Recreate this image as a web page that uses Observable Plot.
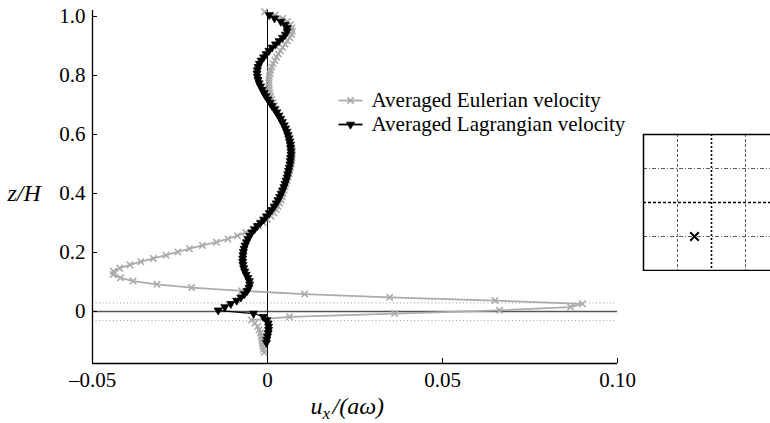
<!DOCTYPE html>
<html><head><meta charset="utf-8">
<script src="https://cdn.jsdelivr.net/npm/d3@7"></script>
<script src="https://cdn.jsdelivr.net/npm/@observablehq/plot@0.6"></script>
<style>
html,body{margin:0;padding:0;background:#fff;overflow:hidden}
#wrap{position:relative;width:770px;height:423px;overflow:hidden;background:#fff}
#wrap svg{display:block;max-width:none !important}
#inset{position:absolute;left:642px;top:133px;width:138px;height:138px}
</style></head><body><div id="wrap"><div id="main"></div><div id="inset"></div></div>
<script>
// ---- data ----
const xTicks = [-0.05, 0, 0.05, 0.10];
const xTickLabels = ["\u20130.05", "0", "0.05", "0.10"];
const yTicks = [0, 0.2, 0.4, 0.6, 0.8, 1.0];
const yTickLabels = ["0", "0.2", "0.4", "0.6", "0.8", "1.0"];
const xDomain = [-0.05, 0.10];
const yDomain = [-0.1763, 1.0203];
const bandLimits = [0.029, -0.031];
const legendLabels = ["Averaged Eulerian velocity", "Averaged Lagrangian velocity"];

// [u_x/(a omega), z/H]
const eulerian = [
  [-0.0010,-0.139],[-0.0012,-0.128],[-0.0014,-0.117],[-0.0015,-0.106],[-0.0016,-0.095],
  [-0.0018,-0.084],[-0.0020,-0.073],[-0.0024,-0.062],[-0.0028,-0.051],[-0.0036,-0.040],
  [-0.0046,-0.029],[0.0063,-0.018],[0.0363,-0.007],[0.0663,0.004],[0.0866,0.015],
  [0.0900,0.026],[0.0650,0.037],[0.0349,0.048],[0.0106,0.059],[-0.0074,0.070],
  [-0.0217,0.081],[-0.0316,0.092],[-0.0384,0.103],[-0.0420,0.114],[-0.0441,0.125],
  [-0.0440,0.136],[-0.0422,0.147],[-0.0393,0.158],[-0.0362,0.169],[-0.0326,0.180],
  [-0.0290,0.191],[-0.0256,0.202],[-0.0223,0.213],[-0.0186,0.224],[-0.0146,0.235],
  [-0.0113,0.246],[-0.0086,0.257],[-0.0062,0.268],[-0.0042,0.279],[-0.0026,0.290],
  [-0.0012,0.301],[0.0000,0.312],[0.0010,0.323],[0.0018,0.334],[0.0025,0.345],
  [0.0030,0.356],[0.0035,0.367],[0.0039,0.378],[0.0042,0.389],[0.0044,0.400],
  [0.0047,0.411],[0.0050,0.422],[0.0053,0.433],[0.0056,0.444],[0.0059,0.455],
  [0.0062,0.466],[0.0064,0.477],[0.0066,0.488],[0.0068,0.499],[0.0069,0.510],
  [0.0070,0.521],[0.0071,0.532],[0.0071,0.543],[0.0070,0.554],[0.0069,0.565],
  [0.0067,0.576],[0.0065,0.587],[0.0062,0.598],[0.0059,0.609],[0.0055,0.620],
  [0.0051,0.631],[0.0046,0.642],[0.0041,0.653],[0.0036,0.664],[0.0030,0.675],
  [0.0025,0.686],[0.0020,0.697],[0.0016,0.708],[0.0012,0.719],[0.0009,0.730],
  [0.0007,0.741],[0.0005,0.752],[0.0004,0.763],[0.0004,0.774],[0.0004,0.785],
  [0.0005,0.796],[0.0007,0.807],[0.0009,0.818],[0.0012,0.829],[0.0016,0.840],
  [0.0021,0.851],[0.0026,0.862],[0.0031,0.873],[0.0037,0.884],[0.0043,0.895],
  [0.0050,0.906],[0.0057,0.917],[0.0064,0.928],[0.0069,0.939],[0.0071,0.950],
  [0.0070,0.961],[0.0066,0.972],[0.0057,0.983],[0.0043,0.994],[0.0022,1.005],
  [-0.0008,1.016]
];

const lagrangian = [
  [-0.0003,-0.106],[-0.0002,-0.095],[0.0000,-0.084],[0.0002,-0.073],[0.0003,-0.062],
  [0.0003,-0.051],[0.0002,-0.040],[-0.0002,-0.029],[-0.0012,-0.018],[-0.0040,-0.007],
  [-0.0141,0.004],[-0.0122,0.015],[-0.0105,0.026],[-0.0088,0.037],[-0.0076,0.048],
  [-0.0066,0.059],[-0.0058,0.070],[-0.0053,0.081],[-0.0051,0.092],[-0.0052,0.103],
  [-0.0056,0.114],[-0.0061,0.125],[-0.0065,0.136],[-0.0068,0.147],[-0.0070,0.158],
  [-0.0071,0.169],[-0.0071,0.180],[-0.0070,0.191],[-0.0069,0.202],[-0.0067,0.213],
  [-0.0064,0.224],[-0.0060,0.235],[-0.0056,0.246],[-0.0051,0.257],[-0.0045,0.268],
  [-0.0037,0.279],[-0.0029,0.290],[-0.0020,0.301],[-0.0011,0.312],[-0.0003,0.323],
  [0.0005,0.334],[0.0012,0.345],[0.0019,0.356],[0.0025,0.367],[0.0030,0.378],
  [0.0035,0.389],[0.0039,0.400],[0.0043,0.411],[0.0047,0.422],[0.0050,0.433],
  [0.0053,0.444],[0.0056,0.455],[0.0058,0.466],[0.0060,0.477],[0.0062,0.488],
  [0.0064,0.499],[0.0065,0.510],[0.0066,0.521],[0.0067,0.532],[0.0067,0.543],
  [0.0066,0.554],[0.0065,0.565],[0.0063,0.576],[0.0061,0.587],[0.0058,0.598],
  [0.0055,0.609],[0.0051,0.620],[0.0047,0.631],[0.0042,0.642],[0.0037,0.653],
  [0.0032,0.664],[0.0026,0.675],[0.0020,0.686],[0.0013,0.697],[0.0007,0.708],
  [0.0001,0.719],[-0.0005,0.730],[-0.0010,0.741],[-0.0015,0.752],[-0.0020,0.763],
  [-0.0024,0.774],[-0.0027,0.785],[-0.0029,0.796],[-0.0030,0.807],[-0.0029,0.818],
  [-0.0027,0.829],[-0.0023,0.840],[-0.0018,0.851],[-0.0011,0.862],[-0.0004,0.873],
  [0.0004,0.884],[0.0013,0.895],[0.0023,0.906],[0.0033,0.917],[0.0043,0.928],
  [0.0051,0.939],[0.0056,0.950],[0.0056,0.961],[0.0050,0.972],[0.0038,0.983],
  [0.0020,0.994],[0.0005,1.005]
];

// inset: tank plan view with probe location
const insetMinor = [0.25, 0.75];
const insetMajor = [0.5];
const probe = [[0.375, 0.25]];

// ---- drawing ----
const font = "Liberation Serif, DejaVu Serif, serif";
const grey = "#ababab";
const triDown = {draw(ctx, size) {
  const r = Math.sqrt(size / Math.PI), a = r, b = 0.58 * r;
  ctx.moveTo(-a, -b); ctx.lineTo(a, -b); ctx.lineTo(0, 2 * b); ctx.closePath();
}};
const swatch = {draw(ctx) { ctx.moveTo(-12, 0); ctx.lineTo(12, 0); }};
const FA = "top-left"; // frame origin at (92, 10)

const main = Plot.plot({
  width: 770, height: 423,
  marginLeft: 92, marginRight: 153, marginTop: 10, marginBottom: 60,
  style: {fontFamily: font, fontSize: "21px", background: "white", color: "black"},
  x: {domain: xDomain, axis: null},
  y: {domain: yDomain, axis: null},
  marks: [
    Plot.ruleY(bandLimits, {stroke: "#999", strokeDasharray: "1,2.5", strokeWidth: 1}),
    Plot.ruleY([0], {stroke: "#555", strokeWidth: 1.4}),
    Plot.ruleX([0], {stroke: "black", strokeWidth: 1}),
    Plot.line(eulerian, {stroke: grey, strokeWidth: 1.8}),
    Plot.dot(eulerian, {symbol: "times", r: 3, stroke: grey, strokeWidth: 1.6}),
    Plot.line(lagrangian, {stroke: "black", strokeWidth: 1.2}),
    Plot.dot(lagrangian, {symbol: triDown, r: 4, fill: "black", stroke: "black", strokeWidth: 0.8}),
    Plot.ruleX([xDomain[0]], {stroke: "black", strokeWidth: 1.3}),
    Plot.ruleY([yDomain[0]], {stroke: "black", strokeWidth: 1.3}),
    Plot.axisX({anchor: "bottom", ticks: xTicks, tickFormat: d => xTickLabels[xTicks.indexOf(d)],
      tickSize: -5, tickPadding: 14, label: null, fontSize: 21, fontFamily: font}),
    Plot.axisY({anchor: "left", ticks: yTicks, tickFormat: d => yTickLabels[yTicks.indexOf(d)],
      tickSize: -5, tickPadding: 12, label: null, fontSize: 21, fontFamily: font}),
    // axis titles
    Plot.text(["z/H"], {frameAnchor: FA, dx: 7 - 92, dy: 200 - 10, textAnchor: "start", lineAnchor: "bottom", fontStyle: "italic", fontSize: 24, fontFamily: font}),
    Plot.text(["u"], {frameAnchor: FA, dx: 310 - 92, dy: 413 - 10, textAnchor: "start", lineAnchor: "bottom", fontStyle: "italic", fontSize: 24, fontFamily: font}),
    Plot.text(["x"], {frameAnchor: FA, dx: 322 - 92, dy: 418 - 10, textAnchor: "start", lineAnchor: "bottom", fontStyle: "italic", fontSize: 17, fontFamily: font}),
    Plot.text(["/(a\u03c9)"], {frameAnchor: FA, dx: 332 - 92, dy: 413 - 10, textAnchor: "start", lineAnchor: "bottom", fontStyle: "italic", fontSize: 24, fontFamily: font}),
    // legend
    Plot.dot([0], {frameAnchor: FA, dx: 350 - 92, dy: 100 - 10, symbol: swatch, fill: "none", stroke: grey, strokeWidth: 1.8}),
    Plot.dot([0], {frameAnchor: FA, dx: 350 - 92, dy: 100 - 10, symbol: "times", r: 3, stroke: grey, strokeWidth: 1.6}),
    Plot.dot([0], {frameAnchor: FA, dx: 350 - 92, dy: 124 - 10, symbol: swatch, fill: "none", stroke: "black", strokeWidth: 1.8}),
    Plot.dot([0], {frameAnchor: FA, dx: 350 - 92, dy: 124 - 10, symbol: triDown, r: 4, fill: "black", stroke: "black", strokeWidth: 0.8}),
    Plot.text([legendLabels[0]], {frameAnchor: FA, dx: 371 - 92, dy: 100 - 10, textAnchor: "start", lineAnchor: "middle", fontSize: 21, fontFamily: font}),
    Plot.text([legendLabels[1]], {frameAnchor: FA, dx: 371 - 92, dy: 124 - 10, textAnchor: "start", lineAnchor: "middle", fontSize: 21, fontFamily: font})
  ]
});
document.getElementById("main").appendChild(main);

const inset = Plot.plot({
  width: 138, height: 138, margin: 1,
  style: {background: "transparent"},
  x: {domain: [0, 1], axis: null},
  y: {domain: [0, 1], axis: null},
  marks: [
    Plot.ruleX(insetMinor, {stroke: "#333", strokeWidth: 0.8, strokeDasharray: "3,2"}),
    Plot.ruleY(insetMinor, {stroke: "#333", strokeWidth: 0.8, strokeDasharray: "4,2,1,2"}),
    Plot.ruleX(insetMajor, {stroke: "black", strokeWidth: 1.6, strokeDasharray: "2,2"}),
    Plot.ruleY(insetMajor, {stroke: "black", strokeWidth: 1.6, strokeDasharray: "3,2"}),
    Plot.frame({stroke: "black", strokeWidth: 1.5}),
    Plot.dot(probe, {symbol: "times", r: 4, stroke: "black", strokeWidth: 2})
  ]
});
document.getElementById("inset").appendChild(inset);
</script></body></html>
